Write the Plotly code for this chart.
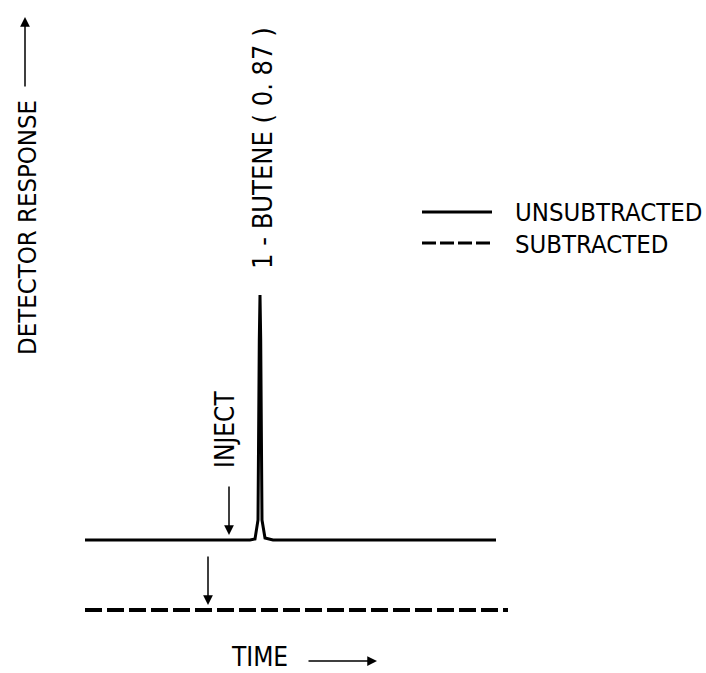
import plotly.graph_objects as go

# Time (arbitrary units) and detector response (arbitrary units)
time_unsub = [0, 165, 170, 173, 174.3, 175, 175.7, 177, 180, 184, 188, 411]
resp_unsub = [0, 0, 1, 20, 200, 245, 200, 20, 2, 1, 0, 0]

time_sub = [0, 423]
resp_sub = [-70, -70]

inject_times = [144, 123]          # injection markers (unsubtracted, subtracted)
inject_levels = [0, -70]

FONT = "Liberation Sans Narrow, DejaVu Sans Condensed, Liberation Sans, sans-serif"

fig = go.Figure()
fig.add_trace(go.Scatter(x=time_unsub, y=resp_unsub, mode="lines",
                         line=dict(color="black", width=3), name="UNSUBTRACTED",
                         showlegend=False))
fig.add_trace(go.Scatter(x=time_sub, y=resp_sub, mode="lines",
                         line=dict(color="black", width=4, dash="17px,5px"),
                         name="SUBTRACTED", showlegend=False))

ann = []
# inject arrows
for t, lvl in zip(inject_times, inject_levels):
    ann.append(dict(x=t, y=lvl + 5, ax=t, ay=lvl + 55, xref="x", yref="y",
                    axref="x", ayref="y", showarrow=True, arrowhead=2,
                    arrowsize=1.3, arrowwidth=1.5, arrowcolor="black", text=""))
# texts
def txt(size):
    return dict(font=dict(family=FONT, size=size, color="black"), showarrow=False,
                xref="x", yref="y")
ann.append(dict(x=177, y=392, text="1 - BUTENE ( 0. 87 )", textangle=-90, **txt(27)))
ann.append(dict(x=140, y=110, text="INJECT", textangle=-90, **txt(26)))
ann.append(dict(x=-58, y=312, text="DETECTOR RESPONSE", textangle=-90, **txt(25.5)))
ann.append(dict(x=174, y=-117, text="TIME", **txt(26)))
ann.append(dict(x=428, y=328, text="UNSUBTRACTED", xanchor="left", **txt(25.5)))
ann.append(dict(x=428, y=296, text="SUBTRACTED", xanchor="left", **txt(25.5)))
# axis arrows
ann.append(dict(x=-60, y=523, ax=-60, ay=452, xref="x", yref="y", axref="x",
                ayref="y", showarrow=True, arrowhead=2, arrowsize=1.3,
                arrowwidth=1.5, arrowcolor="black", text=""))
ann.append(dict(x=292, y=-121, ax=222, ay=-121, xref="x", yref="y", axref="x",
                ayref="y", showarrow=True, arrowhead=2, arrowsize=1.3,
                arrowwidth=1.5, arrowcolor="black", text=""))

shapes = [
    dict(type="line", xref="x", yref="y", x0=337, x1=407, y0=328, y1=328,
         line=dict(color="black", width=3)),
    dict(type="line", xref="x", yref="y", x0=337, x1=407, y0=297, y1=297,
         line=dict(color="black", width=3, dash="14px,4px")),
]

fig.update_layout(
    width=706, height=673, margin=dict(l=0, r=0, t=0, b=0),
    paper_bgcolor="white", plot_bgcolor="white",
    xaxis=dict(range=[-85, 621], visible=False, fixedrange=True),
    yaxis=dict(range=[-133, 540], visible=False, fixedrange=True),
    annotations=ann, shapes=shapes, showlegend=False,
)
fig.write_html("out.html")
